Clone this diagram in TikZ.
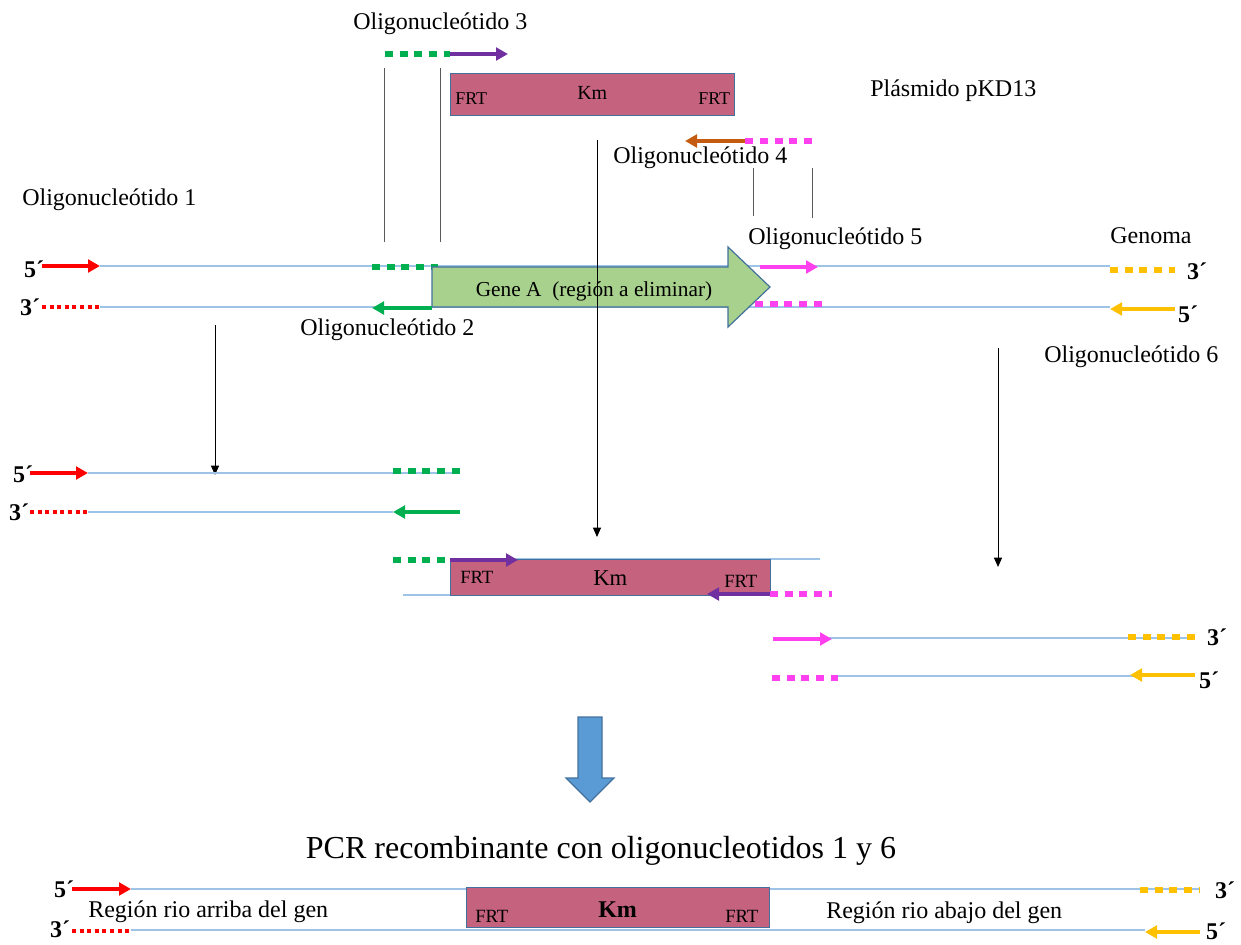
\documentclass[tikz,border=0pt]{standalone}
\usepackage{fontspec}
\setmainfont{Liberation Serif}
\usetikzlibrary{arrows.meta}
\definecolor{strand}{HTML}{9DC3E6}
\definecolor{kmfill}{HTML}{C5637F}
\definecolor{boxline}{HTML}{41719C}
\definecolor{genefill}{HTML}{A9D18E}
\definecolor{ored}{HTML}{FF0000}
\definecolor{ogreen}{HTML}{00B050}
\definecolor{opurple}{HTML}{7030A0}
\definecolor{opink}{HTML}{FF40EE}
\definecolor{oyellow}{HTML}{FFC000}
\definecolor{obrown}{HTML}{C55A11}
\definecolor{bigblue}{HTML}{5B9BD5}
\definecolor{guide}{HTML}{595959}
\tikzset{
  strandline/.style={draw=strand, line width=1.1pt},
  primer/.style={line width=3pt, -{Triangle[length=9pt,width=9.5pt]}},
  sqtail/.style={line width=5pt, dash pattern=on 6pt off 5pt},
  thintail/.style={line width=2.6pt, dash pattern=on 3pt off 2.7pt},
  guideline/.style={draw=guide, line width=0.75pt},
  downarrow/.style={draw=black, line width=0.75pt, -{Triangle[length=7pt,width=6pt]}},
  lbl/.style={font=\fontsize{18}{20}\selectfont, inner sep=0pt, anchor=base west},
  endlbl/.style={font=\fontsize{18}{20}\selectfont\bfseries, inner sep=0pt, anchor=base},
  kmbox/.style={draw=boxline, fill=kmfill, line width=0.9pt, inner sep=0pt, anchor=north west},
  frt/.style={inner sep=0pt, anchor=base west},
}
\begin{document}
\begin{tikzpicture}[x=0.75pt,y=-0.75pt]
\useasboundingbox (0,0) rectangle (1241,945);

% ---------- top: plasmid ----------
\node[lbl] (o3) at (353,30) {Oligonucleótido 3};
\draw[ogreen, sqtail] (385,54) -- (450,54);
\draw[opurple, primer] (450,54) -- (508,54);
\node[kmbox, minimum width=213pt, minimum height=31.5pt] (km1) at (450,73) {};
\node[frt, font=\fontsize{13.5}{15}\selectfont] (frt1a) at (455,105) {FRT};
\node[frt, font=\fontsize{15}{17}\selectfont] (km1t) at (577,100) {Km};
\node[frt, font=\fontsize{13.5}{15}\selectfont] (frt1b) at (698,105) {FRT};
\node[lbl] (pl) at (870,97) {Plásmido pKD13};
\draw[opink, sqtail] (812,141) -- (745,141);
\draw[obrown, primer] (745,141) -- (685,141);
\node[lbl] (o4) at (613,163) {Oligonucleótido 4};

% guide lines
\draw[guideline] (384,68) -- (384,242);
\draw[guideline] (440,68) -- (440,242);
\draw[guideline] (753,168) -- (753,216);
\draw[guideline] (812,168) -- (812,218);

\node[lbl] (o1) at (22,205) {Oligonucleótido 1};
\node[lbl] (o5) at (748,244) {Oligonucleótido 5};
\node[lbl] (gen) at (1110,243) {Genoma};

% ---------- genome ----------
\draw[strandline] (100,266) -- (1110,266);
\draw[strandline] (100,307) -- (1110,307);
\draw[ored, primer] (42,266) -- (100,266);
\draw[ored, thintail] (42,307) -- (100,307);
\draw[ogreen, sqtail] (372,267) -- (438,267);
\draw[draw=boxline, fill=genefill, line width=0.9pt]
  (432,267) -- (728,267) -- (728,247) -- (770,287) -- (728,327) -- (728,307) -- (432,307) -- cycle;
\node[inner sep=0pt, anchor=base, font=\fontsize{16}{18}\selectfont] (gene) at (594,296) {Gene A\ \ (región a eliminar)};
\draw[ogreen, primer] (432,308) -- (372,308);
\draw[opink, primer] (760,267) -- (818,267);
\draw[opink, sqtail] (755,304) -- (822,304);
\draw[oyellow, sqtail] (1110,270) -- (1175,270);
\draw[oyellow, primer] (1175,309) -- (1110,309);
\node[endlbl] (a5) at (34,277) {5´};
\node[endlbl] (a3) at (30,315) {3´};
\node[endlbl] (b3) at (1197,279) {3´};
\node[endlbl] (b5) at (1188,322) {5´};
\node[lbl] (o2) at (300,335) {Oligonucleótido 2};
\node[lbl] (o6) at (1044,362) {Oligonucleótido 6};

% down arrows
\draw[downarrow] (215,325) -- (215,475);
\draw[downarrow] (597,140) -- (597,537);
\draw[downarrow] (998,348) -- (998,567);

% ---------- section 2 left ----------
\draw[strandline] (88,473) -- (460,473);
\draw[strandline] (88,512) -- (393,512);
\draw[ored, primer] (30,473) -- (88,473);
\draw[ored, thintail] (30,512) -- (88,512);
\draw[ogreen, sqtail] (393,471) -- (460,471);
\draw[ogreen, primer] (460,512) -- (393,512);
\node[endlbl] (c5) at (23,482) {5´};
\node[endlbl] (c3) at (19,520) {3´};

% ---------- section 2 middle ----------
\draw[strandline] (450,559) -- (820,559);
\draw[strandline] (403,595) -- (450,595);
\node[kmbox, minimum width=240pt, minimum height=27pt] (km2) at (450,559) {};
\draw[ogreen, sqtail] (393,560) -- (450,560);
\draw[opurple, primer] (450,560) -- (518,560);
\draw[opurple, primer] (770,594) -- (707,594);
\draw[opink, sqtail] (770,594) -- (832,594);
\node[frt, font=\fontsize{14}{16}\selectfont] (frt2a) at (460,583) {FRT};
\node[frt, font=\fontsize{17}{19}\selectfont] (km2t) at (593,585) {Km};
\node[frt, font=\fontsize{14}{16}\selectfont] (frt2b) at (724,587) {FRT};

% ---------- section 2 right ----------
\draw[strandline] (773,638) -- (1195,638);
\draw[strandline] (838,676) -- (1195,676);
\draw[opink, primer] (773,639) -- (832,639);
\draw[oyellow, sqtail] (1128,637) -- (1195,637);
\draw[opink, sqtail] (772,678) -- (838,678);
\draw[oyellow, primer] (1195,675) -- (1130,675);
\node[endlbl] (d3) at (1217,645) {3´};
\node[endlbl] (d5) at (1209,688) {5´};

% ---------- big arrow ----------
\draw[draw=boxline, fill=bigblue, line width=0.9pt]
  (578,717) -- (602,717) -- (602,778) -- (614,778) -- (590,802) -- (566,778) -- (578,778) -- cycle;

\node[inner sep=0pt, anchor=base, font=\fontsize{24}{28}\selectfont] (title) at (601,858) {PCR recombinante con oligonucleotidos 1 y 6};

% ---------- bottom ----------
\draw[strandline] (131,889) -- (466,889);
\draw[strandline] (769,889) -- (1200,889);
\draw[strandline] (131,930) -- (1145,930);
\node[kmbox, minimum width=227.25pt, minimum height=30pt] (km3) at (466,887) {};
\draw[ored, primer] (72,889) -- (131,889);
\draw[ored, thintail] (72,931) -- (131,931);
\draw[oyellow, sqtail] (1140,890) -- (1200,890);
\draw[oyellow, primer] (1200,932) -- (1145,932);
\node[frt, font=\fontsize{14}{16}\selectfont] (frt3a) at (475,922) {FRT};
\node[frt, font=\fontsize{18}{20}\selectfont\bfseries] (km3t) at (598,917) {Km};
\node[frt, font=\fontsize{14}{16}\selectfont] (frt3b) at (725,922) {FRT};
\node[lbl] (up) at (88,917) {Región rio arriba del gen};
\node[lbl] (down) at (826,918) {Región rio abajo del gen};
\node[endlbl] (e5) at (64,897) {5´};
\node[endlbl] (e3) at (60,937) {3´};
\node[endlbl] (f3) at (1225,898) {3´};
\node[endlbl] (f5) at (1216,939) {5´};
\end{tikzpicture}
\end{document}
